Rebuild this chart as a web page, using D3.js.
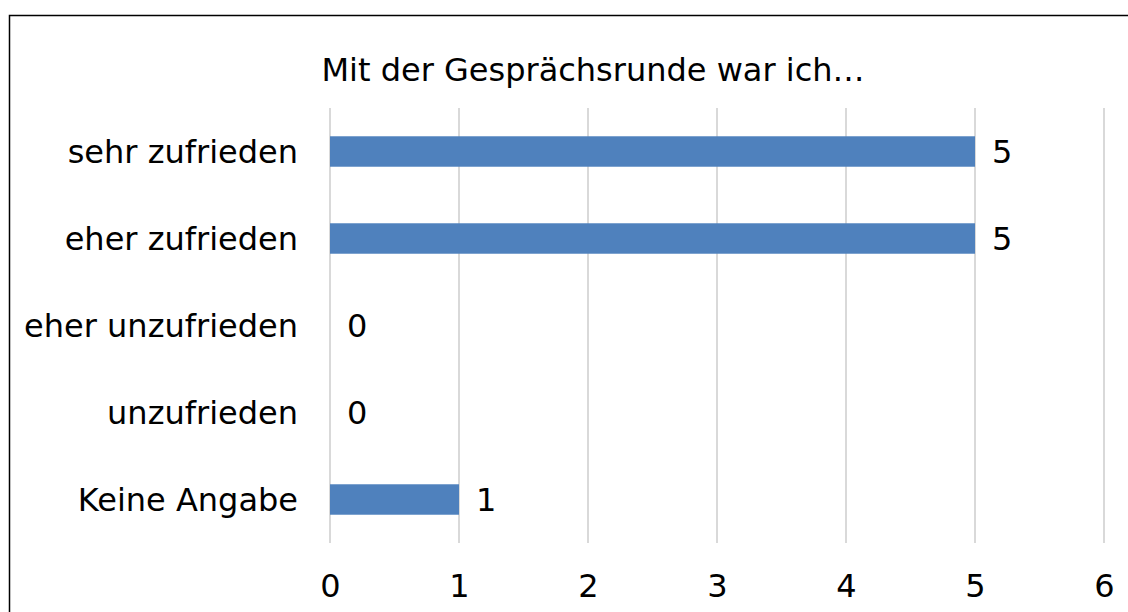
<!DOCTYPE html>
<html>
<head>
<meta charset="utf-8">
<script src="https://cdn.jsdelivr.net/npm/d3@7"></script>
<style>
  body { margin: 0; background: #fff; }
  text { font-family: "DejaVu Sans", Verdana, sans-serif; fill: #000; }
</style>
</head>
<body>
<div id="chart"></div>
<script>
var title = "Mit der Gesprächsrunde war ich…";
var categories = ["sehr zufrieden", "eher zufrieden", "eher unzufrieden", "unzufrieden", "Keine Angabe"];
var counts = [5, 5, 0, 0, 1];
var xTicks = [0, 1, 2, 3, 4, 5, 6];

var W = 1128, H = 612;
var fontSize = 32;

var svg = d3.select("#chart").append("svg")
  .attr("width", W)
  .attr("height", H);

// chart border
svg.append("rect")
  .attr("x", 9.5)
  .attr("y", 15.5)
  .attr("width", 1200)
  .attr("height", 700)
  .attr("fill", "white")
  .attr("stroke", "#000")
  .attr("stroke-width", 1.5);

var xScale = d3.scaleLinear()
  .domain([0, 6])
  .range([330, 1104]);

var yScale = d3.scaleBand()
  .domain(categories)
  .range([108, 543])
  .paddingInner(0.65)
  .paddingOuter(0.325);

// gridlines
svg.append("g")
  .selectAll("line")
  .data(xTicks)
  .enter().append("line")
  .attr("x1", d => xScale(d))
  .attr("x2", d => xScale(d))
  .attr("y1", 108)
  .attr("y2", 543)
  .attr("stroke", "#d9d9d9")
  .attr("stroke-width", 2);

// bars
svg.append("g")
  .selectAll("rect")
  .data(counts)
  .enter().append("rect")
  .attr("x", xScale(0))
  .attr("y", (d, i) => yScale(categories[i]))
  .attr("width", d => xScale(d) - xScale(0))
  .attr("height", yScale.bandwidth())
  .attr("fill", "#4f81bd");

// value labels
svg.append("g")
  .selectAll("text")
  .data(counts)
  .enter().append("text")
  .attr("x", d => xScale(d) + 17)
  .attr("y", (d, i) => yScale(categories[i]) + yScale.bandwidth() / 2)
  .attr("dy", "0.36em")
  .style("font-size", fontSize + "px")
  .text(d => d);

// category labels
var yAxis = d3.axisLeft(yScale).tickSize(0).tickPadding(32);
var yG = svg.append("g")
  .attr("transform", "translate(" + xScale(0) + ",0)")
  .call(yAxis);
yG.select(".domain").remove();
yG.selectAll("text")
  .style("font-size", fontSize + "px")
  .style("font-family", "DejaVu Sans, Verdana, sans-serif")
  .attr("dy", "0.36em");

// x axis labels
var xAxis = d3.axisBottom(xScale)
  .tickValues(xTicks)
  .tickFormat(d3.format("d"))
  .tickSize(0)
  .tickPadding(0);
var xG = svg.append("g")
  .attr("transform", "translate(0,573)")
  .call(xAxis);
xG.select(".domain").remove();
xG.selectAll("text")
  .style("font-size", fontSize + "px")
  .style("font-family", "DejaVu Sans, Verdana, sans-serif")
  .attr("dy", null)
  .attr("y", 24);

// title
svg.append("text")
  .attr("x", 593)
  .attr("y", 81)
  .attr("text-anchor", "middle")
  .style("font-size", fontSize + "px")
  .text(title);
</script>
</body>
</html>
